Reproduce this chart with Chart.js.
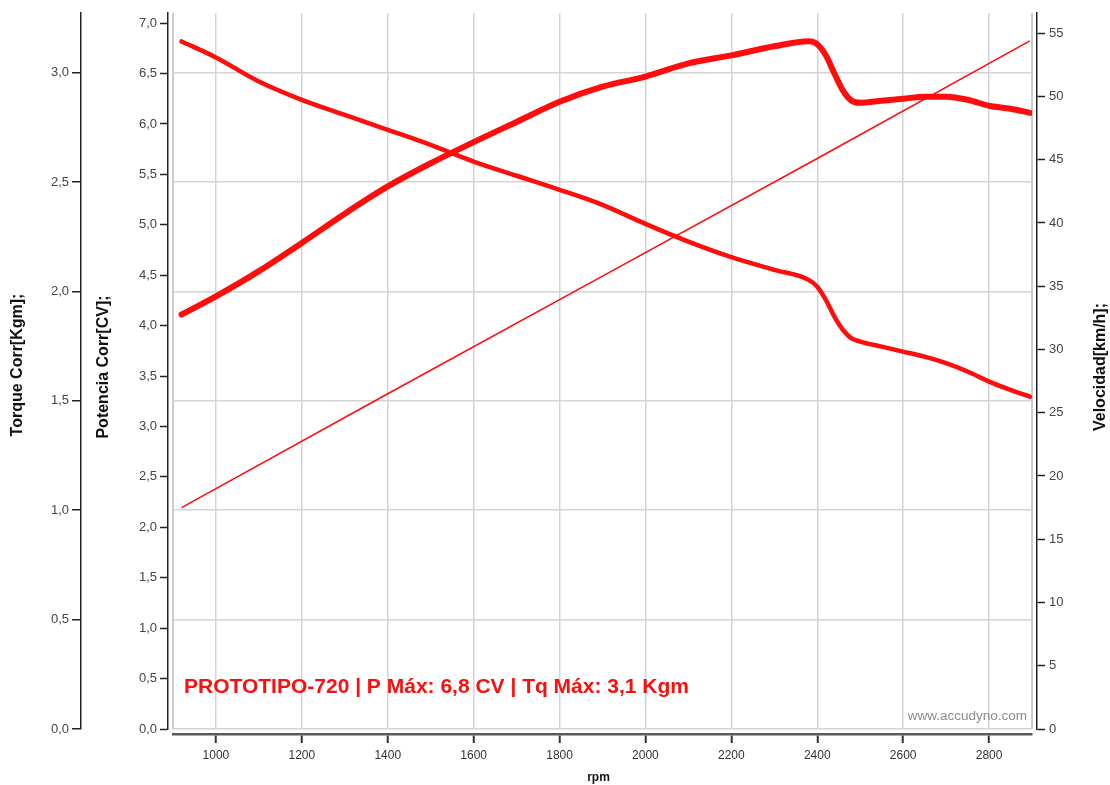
<!DOCTYPE html>
<html>
<head>
<meta charset="utf-8">
<title>PROTOTIPO-720</title>
<script src="https://cdn.jsdelivr.net/npm/chart.js@4.4.1/dist/chart.umd.min.js"></script>
<style>
  html, body { margin: 0; padding: 0; background: #ffffff; }
  #wrap { width: 1110px; height: 785px; }
</style>
</head>
<body>
<div id="wrap"><canvas id="dyno" width="1110" height="785"></canvas></div>
<script>
// Dyno run samples (rpm)
const rpm = [920, 1000, 1100, 1200, 1300, 1400, 1500, 1600, 1700, 1800, 1900, 2000,
             2100, 2200, 2300, 2380, 2400, 2420, 2440, 2460, 2480, 2500, 2550, 2600,
             2650, 2700, 2750, 2800, 2850, 2895];
// Corrected power [CV]
const powerCV = [4.11, 4.29, 4.54, 4.82, 5.11, 5.38, 5.61, 5.82, 6.02, 6.22, 6.37, 6.47,
                 6.60, 6.68, 6.77, 6.82, 6.79, 6.68, 6.50, 6.33, 6.23, 6.21, 6.23, 6.25,
                 6.27, 6.27, 6.24, 6.18, 6.15, 6.11];
// Corrected torque [Kgm]
const torqueKgm = [3.143, 3.07, 2.96, 2.876, 2.807, 2.739, 2.67, 2.594, 2.529, 2.465, 2.396, 2.309,
                   2.228, 2.157, 2.099, 2.053, 2.022, 1.962, 1.885, 1.824, 1.786, 1.771, 1.748, 1.725,
                   1.702, 1.672, 1.634, 1.588, 1.55, 1.519];
// Road speed [km/h]
const speedRpm = [920, 1400, 1900, 2400, 2895];
const speedKmh = [17.5, 26.5, 35.8, 45.1, 54.4];

// Axis ticks
const rpmTicks = [1000, 1200, 1400, 1600, 1800, 2000, 2200, 2400, 2600, 2800];
const torqueTicks = [0, 0.5, 1.0, 1.5, 2.0, 2.5, 3.0];
const powerTicks = [0, 0.5, 1.0, 1.5, 2.0, 2.5, 3.0, 3.5, 4.0, 4.5, 5.0, 5.5, 6.0, 6.5, 7.0];
const speedTicks = [0, 5, 10, 15, 20, 25, 30, 35, 40, 45, 50, 55];

const runTitle = 'PROTOTIPO-720 | P Máx: 6,8 CV | Tq Máx: 3,1 Kgm';
const siteName = 'www.accudyno.com';

const FONT = "'Liberation Sans', Arial, Helvetica, sans-serif";
const RED = '#ff0d0d';
const GRID = '#d4d4d4';
const AXIS = '#222222';
const TICK_TXT = '#444444';

const comma = v => Number(v).toFixed(1).replace('.', ',');
const fixedTicks = list => scale => { scale.ticks = list.map(v => ({ value: v })); };
const pairs = (xs, ys) => xs.map((x, i) => ({ x, y: ys[i] }));

// Detached axes: push the inner scales a few pixels away from the plot frame
const axisGaps = {
  id: 'axisGaps',
  afterLayout(chart) {
    const s = chart.scales;
    s.yP.left -= 5; s.yP.right -= 5;
    s.yV.left += 5; s.yV.right += 5;
    s.x.top += 5; s.x.bottom += 5;
  }
};

const frameAndText = {
  id: 'frameAndText',
  beforeDraw(chart) {
    const ctx = chart.ctx;
    ctx.save();
    ctx.fillStyle = '#ffffff';
    ctx.fillRect(0, 0, chart.width, chart.height);
    ctx.restore();
  },
  beforeDatasetsDraw(chart) {
    const { ctx, chartArea: a } = chart;
    ctx.save();
    ctx.strokeStyle = '#cccccc';
    ctx.lineWidth = 2;
    ctx.beginPath();
    ctx.moveTo(a.left, a.top); ctx.lineTo(a.left, a.bottom);
    ctx.moveTo(a.right, a.top); ctx.lineTo(a.right, a.bottom);
    ctx.stroke();
    ctx.restore();
  },
  afterDraw(chart) {
    const { ctx, chartArea: a } = chart;
    ctx.save();
    // run caption
    ctx.fillStyle = RED;
    ctx.font = 'bold 21px ' + FONT;
    ctx.textAlign = 'left';
    ctx.textBaseline = 'middle';
    ctx.fillText(runTitle, a.left + 11, 687);
    // site mark
    ctx.fillStyle = '#8c8c8c';
    ctx.font = '13.5px ' + FONT;
    ctx.textAlign = 'right';
    ctx.fillText(siteName, a.right - 5, 716);
    // axis titles
    ctx.fillStyle = '#111111';
    ctx.font = 'bold 12px ' + FONT;
    ctx.textAlign = 'center';
    ctx.fillText('rpm', (a.left + a.right) / 2 - 4, 778);
    ctx.font = 'bold 16px ' + FONT;
    const midY = (a.top + a.bottom) / 2;
    const vTitle = (text, x, y) => {
      ctx.save();
      ctx.translate(x, y);
      ctx.rotate(-Math.PI / 2);
      ctx.fillText(text, 0, 0);
      ctx.restore();
    };
    vTitle('Torque Corr[Kgm];', 18, midY - 6);
    vTitle('Potencia Corr[CV];', 104, midY - 4);
    vTitle('Velocidad[km/h];', 1101, midY - 4);
    ctx.restore();
  }
};

const tickFont = { family: FONT, size: 13 };

new Chart(document.getElementById('dyno'), {
  type: 'line',
  data: {
    datasets: [
      {
        label: 'Velocidad[km/h]',
        data: pairs(speedRpm, speedKmh),
        yAxisID: 'yV',
        borderColor: RED,
        borderWidth: 1.6,
        pointRadius: 0,
        tension: 0
      },
      {
        label: 'Torque Corr[Kgm]',
        data: pairs(rpm, torqueKgm),
        yAxisID: 'yT',
        borderColor: RED,
        borderWidth: 4.5,
        borderCapStyle: 'round',
        borderJoinStyle: 'round',
        cubicInterpolationMode: 'monotone',
        pointRadius: 0
      },
      {
        label: 'Potencia Corr[CV]',
        data: pairs(rpm, powerCV),
        yAxisID: 'yP',
        borderColor: RED,
        borderWidth: 6,
        borderCapStyle: 'round',
        borderJoinStyle: 'round',
        cubicInterpolationMode: 'monotone',
        pointRadius: 0
      }
    ]
  },
  options: {
    responsive: false,
    animation: false,
    devicePixelRatio: 1,
    layout: { padding: { left: 0, right: 0, top: 13, bottom: 0 } },
    plugins: { legend: { display: false }, tooltip: { enabled: false } },
    scales: {
      x: {
        type: 'linear',
        position: 'bottom',
        min: 900,
        max: 2900,
        afterBuildTicks: fixedTicks(rpmTicks),
        afterFit: s => { s.height = 56; },
        grid: { color: GRID, lineWidth: 1.5, tickColor: '#333333', tickWidth: 2, tickLength: 9 },
        border: { color: '#5a5a5a', width: 2.5 },
        ticks: { font: { family: FONT, size: 12 }, color: '#333333', padding: 5, maxRotation: 0, autoSkip: false,
                 callback: v => String(v) }
      },
      yT: {
        type: 'linear',
        position: 'left',
        weight: 2,
        min: 0,
        max: 3.273,
        afterBuildTicks: fixedTicks(torqueTicks),
        afterFit: s => { s.width = 81; },
        grid: { color: GRID, lineWidth: 1.5, tickColor: AXIS, tickWidth: 1.5, tickLength: 9 },
        border: { color: AXIS, width: 1.5 },
        ticks: { font: tickFont, color: TICK_TXT, padding: 3, callback: comma }
      },
      yP: {
        type: 'linear',
        position: 'left',
        weight: 1,
        min: 0,
        max: 7.1,
        afterBuildTicks: fixedTicks(powerTicks),
        afterFit: s => { s.width = 92; },
        grid: { drawOnChartArea: false, tickColor: AXIS, tickWidth: 1.5, tickLength: 8 },
        border: { color: AXIS, width: 1.5 },
        ticks: { font: tickFont, color: TICK_TXT, padding: 3, callback: comma }
      },
      yV: {
        type: 'linear',
        position: 'right',
        min: 0,
        max: 56.6,
        afterBuildTicks: fixedTicks(speedTicks),
        afterFit: s => { s.width = 78; },
        grid: { drawOnChartArea: false, tickColor: AXIS, tickWidth: 1.5, tickLength: 8 },
        border: { color: AXIS, width: 1.5 },
        ticks: { font: tickFont, color: TICK_TXT, padding: 4, callback: v => String(v) }
      }
    }
  },
  plugins: [axisGaps, frameAndText]
});
</script>
</body>
</html>
